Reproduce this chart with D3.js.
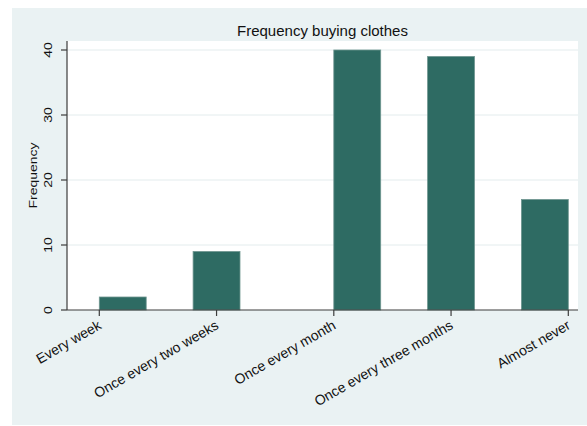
<!DOCTYPE html>
<html>
<head>
<meta charset="utf-8">
<script src="https://cdn.jsdelivr.net/npm/d3@7"></script>
<style>
  html, body { margin: 0; padding: 0; background: #ffffff; }
  svg { display: block; }
  text { font-family: "Liberation Sans", Arial, Helvetica, sans-serif; fill: #111; }
</style>
</head>
<body>
<svg id="chart" width="587" height="426"></svg>
<script>
// ---- data ----
const categories = ["Every week", "Once every two weeks", "Once every month", "Once every three months", "Almost never"];
const codes = [1, 2, 3, 4, 5];
const frequencies = [2, 9, 40, 39, 17];
const yTicks = [0, 10, 20, 30, 40];
const titleText = "Frequency buying clothes";
const yTitle = "Frequency";
const binCount = 10;

// ---- layout ----
const W = 587, H = 426;
const panel = { x: 12, y: 8, w: 575, h: 417 };
const plot = { left: 67, right: 578, top: 41, bottom: 310 };

const svg = d3.select("#chart");

svg.append("rect").attr("x", panel.x).attr("y", panel.y)
  .attr("width", panel.w).attr("height", panel.h).attr("fill", "#eaf2f3");

svg.append("rect").attr("x", plot.left).attr("y", plot.top)
  .attr("width", plot.right - plot.left).attr("height", plot.bottom - plot.top)
  .attr("fill", "#ffffff");

const xMin = d3.min(codes), xMax = d3.max(codes);
const x = d3.scaleLinear().domain([xMin, xMax]).range([99.3, 568.3]);
const y = d3.scaleLinear().domain([0, 40]).range([plot.bottom, 50]);

// gridlines
svg.append("g").selectAll("line").data(yTicks.filter(t => t > 0)).join("line")
  .attr("x1", plot.left).attr("x2", plot.right)
  .attr("y1", d => y(d)).attr("y2", d => y(d))
  .attr("stroke", "#e3eced").attr("stroke-width", 1);

// histogram bins (discrete values placed into equal-width bins over [min,max])
const binW = (xMax - xMin) / binCount;
const bars = codes.map((c, i) => {
  let k = Math.floor((c - xMin) / binW + 1e-9);
  if (k >= binCount) k = binCount - 1;
  return { lo: xMin + k * binW, hi: xMin + (k + 1) * binW, v: frequencies[i] };
});

svg.append("g").selectAll("rect").data(bars).join("rect")
  .attr("x", d => x(d.lo))
  .attr("width", d => x(d.hi) - x(d.lo))
  .attr("y", d => y(d.v))
  .attr("height", d => y(0) - y(d.v))
  .attr("fill", "#2e6b63")
  .attr("stroke", "#6f9690")
  .attr("stroke-width", 0.8);

// y axis
const yAxisG = svg.append("g").attr("transform", `translate(${plot.left},0)`);
yAxisG.append("line").attr("x1", 0).attr("x2", 0).attr("y1", plot.top).attr("y2", plot.bottom)
  .attr("stroke", "#3c3c3c").attr("stroke-width", 1.2);
yAxisG.selectAll("line.tick").data(yTicks).join("line").attr("class", "tick")
  .attr("x1", -6).attr("x2", 0).attr("y1", d => y(d)).attr("y2", d => y(d))
  .attr("stroke", "#3c3c3c").attr("stroke-width", 1.2);
yAxisG.selectAll("text").data(yTicks).join("text")
  .attr("transform", d => `translate(-15,${y(d)}) rotate(-90) scale(1,0.8)`)
  .attr("text-anchor", "middle")
  .style("font-size", "14px")
  .text(d => d);

// x axis
const xAxisG = svg.append("g").attr("transform", `translate(0,${plot.bottom})`);
xAxisG.append("line").attr("x1", plot.left).attr("x2", plot.right).attr("y1", 0).attr("y2", 0)
  .attr("stroke", "#3c3c3c").attr("stroke-width", 1.2);
xAxisG.selectAll("line.tick").data(codes).join("line").attr("class", "tick")
  .attr("x1", d => x(d)).attr("x2", d => x(d)).attr("y1", 0).attr("y2", 6)
  .attr("stroke", "#3c3c3c").attr("stroke-width", 1.2);
xAxisG.selectAll("text").data(codes).join("text")
  .attr("transform", d => `translate(${x(d) + 3},18) rotate(-30)`)
  .attr("text-anchor", "end")
  .style("font-size", "14px")
  .text((d, i) => categories[i]);

// y title
svg.append("text")
  .attr("transform", `translate(37,${(plot.top + plot.bottom) / 2}) rotate(-90) scale(1,0.8)`)
  .attr("text-anchor", "middle")
  .style("font-size", "14px")
  .text(yTitle);

// title
svg.append("text")
  .attr("x", (plot.left + plot.right) / 2).attr("y", 36)
  .attr("text-anchor", "middle")
  .style("font-size", "15px")
  .text(titleText);
</script>
</body>
</html>
